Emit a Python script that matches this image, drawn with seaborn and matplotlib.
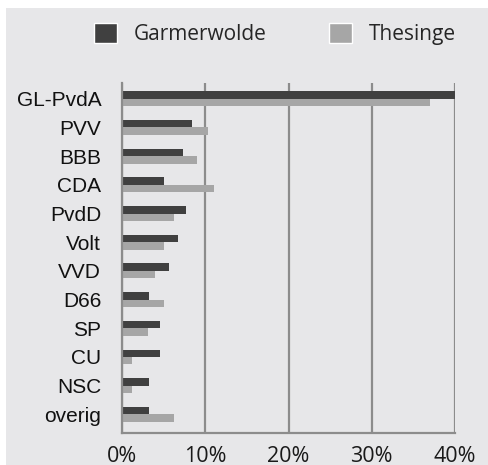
import matplotlib.pyplot as plt
import matplotlib.patches as mpatches
import pandas as pd
import seaborn as sns

# Data (percent of votes)
parties = ['GL-PvdA', 'PVV', 'BBB', 'CDA', 'PvdD', 'Volt', 'VVD', 'D66', 'SP', 'CU', 'NSC', 'overig']
garmerwolde = [40.0, 8.4, 7.3, 5.0, 7.7, 6.7, 5.6, 3.2, 4.6, 4.6, 3.2, 3.2]
thesinge = [37.0, 10.3, 9.0, 11.0, 6.2, 5.1, 4.0, 5.1, 3.1, 1.2, 1.2, 6.2]
places = ['Garmerwolde', 'Thesinge']
colors = ['#404040', '#a6a6a6']
xticks = [0, 10, 20, 30, 40]

df = pd.DataFrame({
    'party': parties * 2,
    'value': garmerwolde + thesinge,
    'place': [places[0]] * len(parties) + [places[1]] * len(parties),
})

bg = '#e7e7e9'
grid = '#8c8c8c'

sns.set_style('white')
fig = plt.figure(figsize=(4.88, 4.65), dpi=100)
fig.patch.set_facecolor('white')
# grey panel behind everything (white strip at top and left)
fig.patches.append(mpatches.Rectangle((6 / 488, 0), 1, 1 - 8 / 465, transform=fig.transFigure,
                                      facecolor=bg, edgecolor='none', zorder=-10))

ax = fig.add_axes([122 / 488, 1 - 433 / 465, (455 - 122) / 488, (433 - 83) / 465])
ax.set_facecolor(bg)

sns.barplot(data=df, y='party', x='value', hue='place', order=parties, hue_order=places,
            palette=colors, orient='h', width=0.52, ax=ax, legend=False, saturation=1,
            linewidth=0)

ax.set_xlim(0, 40)
ax.set_ylim(11.65, -0.55)
ax.set_xticks(xticks)
ax.set_xticklabels([f'{t}%' for t in xticks], fontfamily='Open Sans', fontsize=15.5, color='#1a1a1a')
ax.set_yticks(range(len(parties)))
ax.set_yticklabels(parties, fontfamily='Liberation Sans', fontsize=15, color='#111111')
ax.tick_params(axis='y', length=0, pad=15)
ax.tick_params(axis='x', length=0, pad=9)
ax.set_xlabel('')
ax.set_ylabel('')

ax.xaxis.grid(True, color=grid, linewidth=1.6)
ax.set_axisbelow(True)
for s in ['top', 'right']:
    ax.spines[s].set_visible(False)
for s in ['left', 'bottom']:
    ax.spines[s].set_color(grid)
    ax.spines[s].set_linewidth(1.6)

handles = [mpatches.Patch(facecolor=c, label=p) for c, p in zip(colors, places)]
leg = fig.legend(handles=handles, loc='center', bbox_to_anchor=(0.563, 0.927), ncol=2,
                 frameon=False, handlelength=1.1, handleheight=1.1, columnspacing=3.0,
                 handletextpad=0.8, prop={'family': 'Open Sans', 'size': 15})

fig.savefig('out.png', dpi=100, facecolor=fig.get_facecolor())
